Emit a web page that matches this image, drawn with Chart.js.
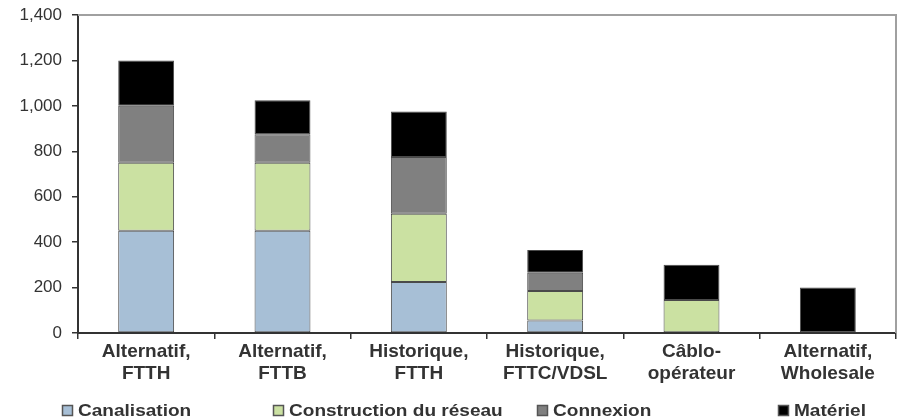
<!DOCTYPE html>
<html>
<head>
<meta charset="utf-8">
<script src="https://cdn.jsdelivr.net/npm/chart.js@4/dist/chart.umd.min.js"></script>
<style>
html,body{margin:0;padding:0;background:#fff;}
#wrap{width:901px;height:420px;position:relative;}
</style>
</head>
<body>
<div id="wrap"><canvas id="c" width="901" height="420"></canvas></div>
<script>
const categories = [
  ["Alternatif,", "FTTH"],
  ["Alternatif,", "FTTB"],
  ["Historique,", "FTTH"],
  ["Historique,", "FTTC/VDSL"],
  ["Câblo-", "opérateur"],
  ["Alternatif,", "Wholesale"]
];
const seriesNames = ["Canalisation", "Construction du réseau", "Connexion", "Matériel"];
const canalisation = [450, 450, 225, 55, null, null];
const construction = [300, 300, 300, 130, 145, null];
const connexion = [250, 125, 250, 80, null, null];
const materiel = [200, 150, 200, 100, 155, 200];
const yTicks = [0, 200, 400, 600, 800, 1000, 1200, 1400];

const colors = ["#a7bfd6", "#cbe1a2", "#808080", "#000000"];
const legendX = [62, 273, 537, 778];

const values = [canalisation, construction, connexion, materiel];
const datasets = seriesNames.map((n, i) => ({
  label: n,
  data: values[i],
  backgroundColor: colors[i],
  borderColor: "#4a4a4a",
  borderWidth: 1,
  borderSkipped: false,
  categoryPercentage: 1,
  barPercentage: 0.41
}));

const framePlugin = {
  id: "frame",
  afterDraw(chart) {
    const ctx = chart.ctx, a = chart.chartArea;
    ctx.save();
    ctx.strokeStyle = "#a0a0a0";
    ctx.lineWidth = 2;
    ctx.beginPath();
    ctx.moveTo(a.left, a.top);
    ctx.lineTo(a.right, a.top);
    ctx.lineTo(a.right, a.bottom);
    ctx.stroke();
    // legend
    ctx.font = "bold 17px 'Liberation Sans', Arial, sans-serif";
    ctx.textBaseline = "middle";
    const ly = 410;
    seriesNames.forEach((n, i) => {
      const x = legendX[i];
      ctx.fillStyle = colors[i];
      ctx.fillRect(x, ly - 5, 11, 11);
      ctx.strokeStyle = "#555";
      ctx.lineWidth = 1.5;
      ctx.strokeRect(x + 0.5, ly - 4.5, 10, 10);
      ctx.save();
      ctx.translate(x + 16, ly);
      ctx.scale(1.12, 1);
      ctx.fillStyle = "#333";
      ctx.fillText(n, 0, 1);
      ctx.restore();
    });
    ctx.restore();
  }
};

new Chart(document.getElementById("c"), {
  type: "bar",
  data: { labels: categories, datasets },
  options: {
    responsive: false,
    animation: false,
    layout: { padding: { top: 15, right: 5, left: 0, bottom: 0 } },
    plugins: { legend: { display: false }, tooltip: { enabled: false } },
    scales: {
      x: {
        stacked: true,
        offset: true,
        grid: { offset: true, drawOnChartArea: false, drawTicks: true, tickLength: 6, color: "#333", lineWidth: 1.5 },
        border: { color: "#333", width: 2 },
        ticks: {
          font: { family: "'Liberation Sans', Arial, sans-serif", size: 19, weight: "bold", lineHeight: 1.15 },
          color: "#333",
          maxRotation: 0,
          autoSkip: false,
          padding: 2
        },
        afterFit(s) { s.height = 87; s.paddingLeft = 0; s.paddingRight = 0; }
      },
      y: {
        stacked: true,
        min: 0,
        max: 1400,
        afterBuildTicks(s) { s.ticks = yTicks.map(v => ({ value: v })); },
        grid: { drawOnChartArea: false, drawTicks: true, tickLength: 6, color: "#333", lineWidth: 1.5 },
        border: { color: "#333", width: 2 },
        ticks: {
          font: { family: "'Liberation Sans', Arial, sans-serif", size: 17 },
          color: "#333",
          padding: 10,
          callback: v => v.toLocaleString("en-US")
        },
        afterFit(s) { s.width = 78; s.paddingTop = 0; s.paddingBottom = 0; }
      }
    }
  },
  plugins: [framePlugin]
});
</script>
</body>
</html>
